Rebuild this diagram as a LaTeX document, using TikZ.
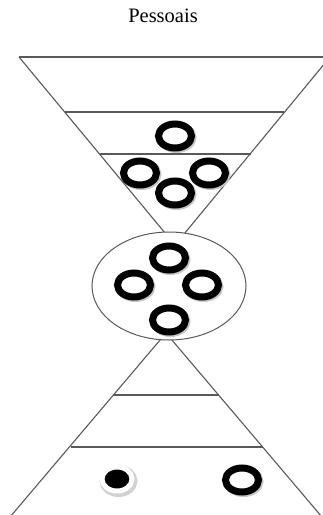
\documentclass[tikz,border=0pt]{standalone}
\usepackage{fontspec}
\setmainfont{Liberation Serif}
\usetikzlibrary{shapes.geometric}

\begin{document}
\begin{tikzpicture}[x=1pt,y=-1pt,
        funnel/.style={draw=black!65,line width=1.1pt},
        level/.style={draw=black!65,line width=1.5pt},
        ring/.style={ellipse,draw=black,fill=white,line width=7pt,inner sep=0pt,
            minimum width=33pt,minimum height=24pt,
            preaction={draw=black!22,transform canvas={shift={(1.5pt,-1.5pt)}}}},
        dot/.style={ellipse,draw=white,fill=black,line width=5pt,inner sep=0pt,
            minimum width=30pt,minimum height=24pt,
            preaction={draw=black!18,line width=8pt,transform canvas={shift={(1.5pt,-2pt)}}}}]

    \useasboundingbox (0,0) rectangle (323,515);
    \clip (0,0) rectangle (323,515);

    % Title
    \node[font=\fontsize{20.5}{24}\selectfont] (title) at (163,16) {Pessoais};

    % Upper funnel
    \coordinate (tl) at (19,57);
    \coordinate (tr) at (330,57);
    \coordinate (a1) at (175,245);
    \draw[funnel] (tl) -- (tr);
    \draw[funnel] (tl) -- (a1) -- (tr);
    \draw[level] (65,112) -- (284,112);
    \draw[level] (100,154) -- (251,154);

    % Lower funnel
    \coordinate (a2) at (166,333);
    \coordinate (bl) at (-1,530);
    \coordinate (br) at (333,530);
    \draw[funnel] (bl) -- (a2) -- (br);
    \draw[level] (113,395) -- (219,395);
    \draw[level] (71,447) -- (263,447);

    % Middle pool
    \node[ellipse,draw=black!65,fill=white,line width=1pt,
        minimum width=154pt,minimum height=108pt] (pool) at (169,286) {};

    % Rings in the upper funnel
    \node[ring] (r1) at (175,136) {};
    \node[ring] (r2) at (140,173) {};
    \node[ring] (r3) at (175,193) {};
    \node[ring] (r4) at (209,173) {};

    % Rings in the pool
    \node[ring] (p1) at (169,258) {};
    \node[ring] (p2) at (134,285) {};
    \node[ring] (p3) at (202,285) {};
    \node[ring] (p4) at (169,320) {};

    % Bottom
    \node[dot] (d1) at (117,479) {};
    \node[ring] (r5) at (242,480) {};

\end{tikzpicture}
\end{document}
